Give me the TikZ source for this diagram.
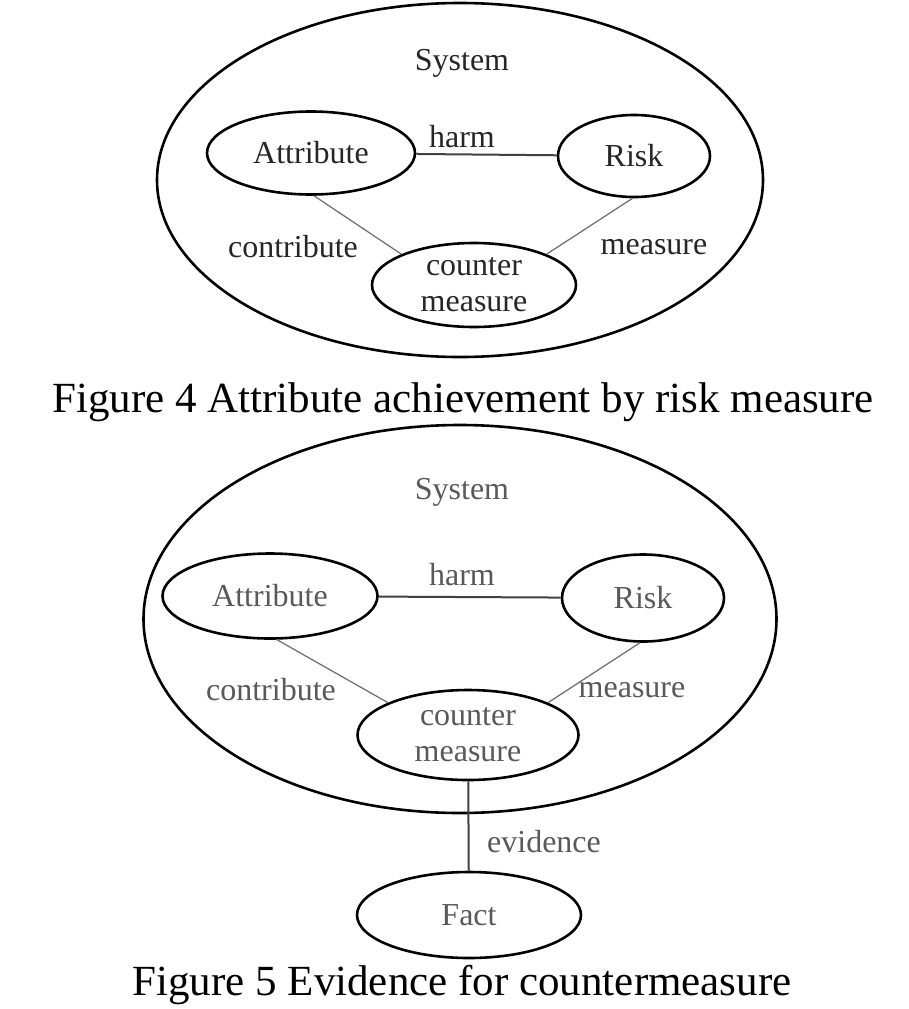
\documentclass[tikz,border=0pt]{standalone}
\usepackage{fontspec}
\setmainfont{Liberation Serif}
\usetikzlibrary{shapes.geometric}

\tikzset{
  entity/.style={draw, ellipse, line width=2.6pt, inner sep=0pt, align=center},
  rel/.style={black!55, line width=1.3pt},
  tie/.style={black!75, line width=2pt},
  word/.style={inner sep=0pt},
}

\begin{document}
\begin{tikzpicture}[x=1pt, y=-1pt, font=\fontsize{32}{36}\selectfont]
    \useasboundingbox (0,0) rectangle (908,1009);
    % Figure 4
    \begin{scope}[every node/.append style={text=black!85}]
        \node[entity, minimum width=606pt, minimum height=354pt] (sys4) at (460,180) {};
        \node[word] (sysname4) at (462,63) {System};
        \node[entity, minimum width=208pt, minimum height=83pt] (attr4) at (311,153) {Attribute};
        \node[entity, minimum width=152pt, minimum height=82pt] (risk4) at (634,156) {Risk};
        \node[entity, minimum width=204pt, minimum height=84pt] (cm4) at (474,285) {counter\\measure};
        \draw[tie] (attr4) -- (risk4);
        \draw[rel] (attr4.-86) -- (cm4.157);
        \draw[rel] (risk4.-92) -- (cm4.23);
        \node[word] (harm4) at (462,137) {harm};
        \node[word] (contr4) at (293,247) {contribute};
        \node[word] (meas4) at (654,247) {measure};
    \end{scope}
    \node[font=\fontsize{43}{48}\selectfont] (cap4) at (463,402) {Figure 4 Attribute achievement by risk measure};
    % Figure 5
    \begin{scope}[every node/.append style={text=black!65}]
        \node[entity, minimum width=633pt, minimum height=388pt] (sys5) at (460,619) {};
        \node[word] (sysname5) at (462,492) {System};
        \node[entity, minimum width=215pt, minimum height=85pt] (attr5) at (270,596) {Attribute};
        \node[entity, minimum width=162pt, minimum height=87pt] (risk5) at (643,598) {Risk};
        \node[entity, minimum width=221pt, minimum height=90pt] (cm5) at (468,735) {counter\\measure};
        \node[entity, minimum width=224pt, minimum height=86pt] (fact5) at (469,915) {Fact};
        \draw[tie] (attr5) -- (risk5);
        \draw[rel] (attr5.-81) -- (cm5.158);
        \draw[rel] (risk5.-94) -- (cm5.22);
        \draw[tie] (cm5) -- (fact5);
        \node[word] (harm5) at (462,575) {harm};
        \node[word] (contr5) at (271,690) {contribute};
        \node[word] (meas5) at (632,690) {measure};
        \node[word] (evid5) at (544,842) {evidence};
    \end{scope}
    \node[font=\fontsize{43}{48}\selectfont, inner sep=0pt] (cap5) at (462,985) {Figure 5 Evidence for countermeasure};
\end{tikzpicture}
\end{document}
